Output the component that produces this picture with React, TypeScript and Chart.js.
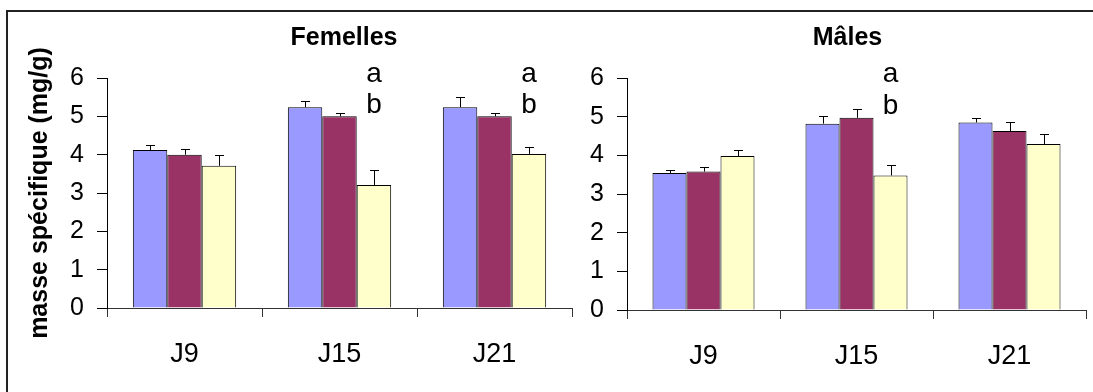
import React, { useEffect, useRef } from 'react';
import { Chart, registerables } from 'chart.js';

Chart.register(...registerables);

// ---------- data ----------
const categories = ['J9', 'J15', 'J21'];
const seriesNames = ['Série 1', 'Série 2', 'Série 3'];
const yMin = 0;
const yMax = 6;
const yStep = 1;

const femBlue = [4.12, 5.24, 5.24];
const femBlueErr = [0.12, 0.16, 0.27];
const femMaroon = [4.0, 5.0, 5.0];
const femMaroonErr = [0.16, 0.1, 0.09];
const femYellow = [3.71, 3.21, 4.02];
const femYellowErr = [0.29, 0.38, 0.19];
const femLetters = [[], ['a', 'b'], ['a', 'b']];

const maleBlue = [3.54, 4.82, 4.85];
const maleBlueErr = [0.07, 0.19, 0.12];
const maleMaroon = [3.58, 4.97, 4.63];
const maleMaroonErr = [0.13, 0.23, 0.22];
const maleYellow = [3.98, 3.48, 4.29];
const maleYellowErr = [0.16, 0.26, 0.25];
const maleLetters = [[], ['a', 'b'], []];

const femTitle = 'Femelles';
const maleTitle = 'Mâles';
const yTitle = 'masse spécifique (mg/g)';

// ---------- style ----------
const COLORS = ['#9999FF', '#993366', '#FFFFCC'];
const FONT = "'Liberation Sans', Arial, sans-serif";
const letterLevels = [6.1, 5.28];

const errorBarPlugin = {
  id: 'errorBars',
  afterDatasetsDraw(chart: any) {
    const ctx = chart.ctx;
    const yScale = chart.scales.y;
    ctx.save();
    ctx.strokeStyle = '#000';
    ctx.lineWidth = 1;
    chart.data.datasets.forEach((ds: any, di: number) => {
      const meta = chart.getDatasetMeta(di);
      meta.data.forEach((el: any, i: number) => {
        const err = ds.errors ? ds.errors[i] : 0;
        if (!err) return;
        const x = Math.round(el.x) + 0.5;
        const yTop = Math.round(yScale.getPixelForValue(ds.data[i] + err)) + 0.5;
        const yBar = el.y;
        ctx.beginPath();
        ctx.moveTo(x, yBar);
        ctx.lineTo(x, yTop);
        ctx.moveTo(x - 4.5, yTop);
        ctx.lineTo(x + 4.5, yTop);
        ctx.stroke();
      });
    });
    ctx.restore();
  },
};

const lettersPlugin = {
  id: 'sigLetters',
  afterDatasetsDraw(chart: any, _args: any, opts: any) {
    const letters = opts.letters || [];
    const ctx = chart.ctx;
    const yScale = chart.scales.y;
    const lastIdx = chart.data.datasets.length - 1;
    const meta = chart.getDatasetMeta(lastIdx);
    ctx.save();
    ctx.fillStyle = '#000';
    ctx.font = `28px ${FONT}`;
    ctx.textAlign = 'center';
    ctx.textBaseline = 'middle';
    letters.forEach((arr: string[], i: number) => {
      const el = meta.data[i];
      if (!el) return;
      arr.forEach((t, k) => {
        ctx.fillText(t, el.x, yScale.getPixelForValue(letterLevels[k]));
      });
    });
    ctx.restore();
  },
};

const panelTitlePlugin = {
  id: 'panelTitle',
  afterDraw(chart: any, _args: any, opts: any) {
    if (!opts.text) return;
    const ctx = chart.ctx;
    ctx.save();
    ctx.fillStyle = '#000';
    ctx.font = `bold 25px ${FONT}`;
    ctx.textAlign = 'center';
    ctx.textBaseline = 'middle';
    ctx.fillText(opts.text, opts.x, opts.y);
    ctx.restore();
  },
};

type PanelProps = {
  blue: number[]; blueErr: number[];
  maroon: number[]; maroonErr: number[];
  yellow: number[]; yellowErr: number[];
  letters: string[][];
  title: string; titleX: number; titleY: number;
  width: number; height: number;
  yAxisWidth: number; xAxisHeight: number;
  padTop: number; padRight: number;
  showYTitle: boolean;
  left: number;
};

function Panel(p: PanelProps) {
  const ref = useRef<HTMLCanvasElement>(null);
  useEffect(() => {
    if (!ref.current) return;
    const values = [p.blue, p.maroon, p.yellow];
    const errs = [p.blueErr, p.maroonErr, p.yellowErr];
    const chart = new Chart(ref.current, {
      type: 'bar',
      data: {
        labels: categories,
        datasets: values.map((v, i) => ({
          label: seriesNames[i],
          data: v,
          errors: errs[i],
          backgroundColor: COLORS[i],
          borderColor: '#000',
          borderWidth: 1,
          borderSkipped: 'start',
          categoryPercentage: 1 / 1.5,
          barPercentage: 1,
        })) as any,
      },
      options: {
        animation: false,
        responsive: false,
        devicePixelRatio: 1,
        layout: { padding: { top: p.padTop, right: p.padRight, left: 0, bottom: 0 } },
        plugins: {
          legend: { display: false },
          tooltip: { enabled: false },
          title: { display: false },
          sigLetters: { letters: p.letters },
          panelTitle: { text: p.title, x: p.titleX, y: p.titleY },
        } as any,
        scales: {
          x: {
            grid: { drawOnChartArea: false, drawTicks: true, tickLength: 9, color: '#333', offset: true },
            border: { display: true, color: '#333', width: 1 },
            ticks: { color: '#000', font: { family: FONT, size: 27 }, padding: 21, maxRotation: 0 },
            afterFit: (s: any) => { s.height = p.xAxisHeight; },
          },
          y: {
            min: yMin,
            max: yMax,
            grid: { drawOnChartArea: false, drawTicks: true, tickLength: 10, color: '#000' },
            border: { display: true, color: '#000', width: 1 },
            ticks: { stepSize: yStep, color: '#000', font: { family: FONT, size: 25 }, padding: 13, autoSkip: false },
            title: {
              display: p.showYTitle,
              text: yTitle,
              color: '#000',
              font: { family: FONT, size: 25, weight: 'bold' },
              padding: { top: 25, bottom: 0 },
            },
            afterFit: (s: any) => { s.width = p.yAxisWidth; },
          },
        },
      } as any,
      plugins: [errorBarPlugin, lettersPlugin, panelTitlePlugin],
    });
    return () => chart.destroy();
  }, []);
  return (
    <canvas
      ref={ref}
      width={p.width}
      height={p.height}
      style={{ position: 'absolute', left: p.left, top: 0, width: p.width, height: p.height }}
    />
  );
}

export default function App() {
  return (
    <div
      style={{
        position: 'fixed', left: 0, top: 0, width: 1093, height: 392,
        background: '#fff', overflow: 'hidden',
      }}
    >
      <div
        style={{
          position: 'absolute', left: 6, top: 10, width: 2000, height: 2000,
          borderLeft: '2px solid #222', borderTop: '2px solid #222',
        }}
      />
      <Panel
        blue={femBlue} blueErr={femBlueErr}
        maroon={femMaroon} maroonErr={femMaroonErr}
        yellow={femYellow} yellowErr={femYellowErr}
        letters={femLetters}
        title={femTitle} titleX={344} titleY={38}
        width={580} height={392}
        yAxisWidth={107} xAxisHeight={84}
        padTop={78} padRight={8}
        showYTitle={true}
        left={0}
      />
      <Panel
        blue={maleBlue} blueErr={maleBlueErr}
        maroon={maleMaroon} maroonErr={maleMaroonErr}
        yellow={maleYellow} yellowErr={maleYellowErr}
        letters={maleLetters}
        title={maleTitle} titleX={267.5} titleY={38}
        width={513} height={392}
        yAxisWidth={47} xAxisHeight={82}
        padTop={78} padRight={7}
        showYTitle={false}
        left={580}
      />
    </div>
  );
}
